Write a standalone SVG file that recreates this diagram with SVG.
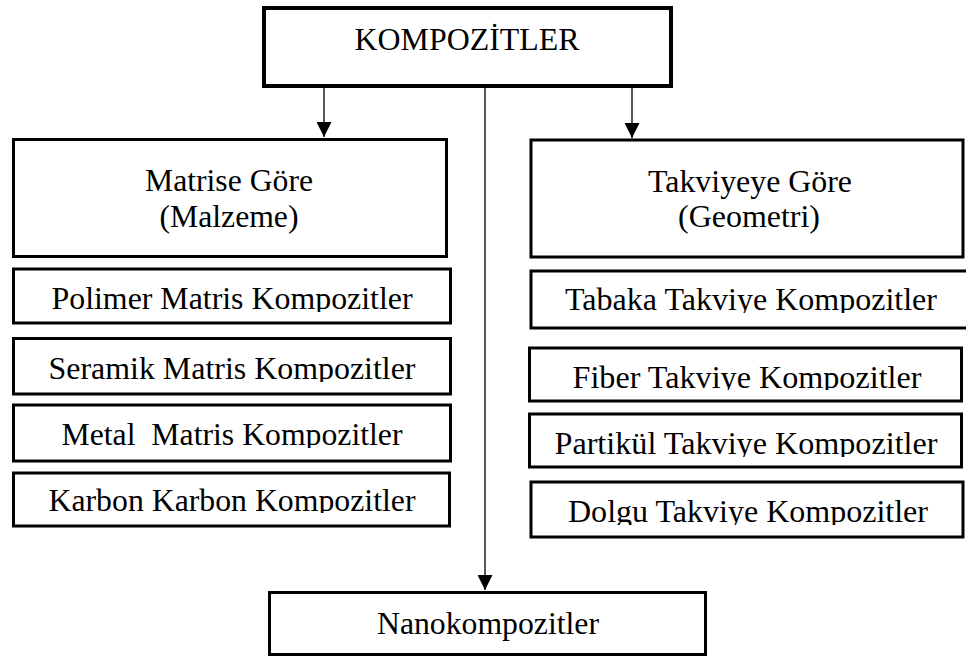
<svg xmlns="http://www.w3.org/2000/svg" width="966" height="657" viewBox="0 0 966 657">
<style>
.box{fill:#fff;stroke:#000;stroke-width:3}
.t{font-family:"Liberation Serif",serif;font-size:31px;fill:#000;text-anchor:middle}
.ln{stroke:#000;stroke-width:1.3;fill:none}
</style>
<defs>
<marker id="ah" markerWidth="16" markerHeight="15" refX="15" refY="7.5" orient="auto" markerUnits="userSpaceOnUse">
<path d="M0,0 L15,7.5 L0,15 Z" fill="#000"/>
</marker>
<clipPath id="c1" clipPathUnits="userSpaceOnUse"><rect x="0" y="270" width="966" height="42"/></clipPath>
<clipPath id="c2" clipPathUnits="userSpaceOnUse"><rect x="0" y="272" width="966" height="41"/></clipPath>
<clipPath id="c3" clipPathUnits="userSpaceOnUse"><rect x="0" y="340" width="966" height="42"/></clipPath>
<clipPath id="c4" clipPathUnits="userSpaceOnUse"><rect x="0" y="406" width="966" height="42"/></clipPath>
<clipPath id="c5" clipPathUnits="userSpaceOnUse"><rect x="0" y="474" width="966" height="39"/></clipPath>
<clipPath id="c6" clipPathUnits="userSpaceOnUse"><rect x="0" y="349" width="966" height="41"/></clipPath>
<clipPath id="c7" clipPathUnits="userSpaceOnUse"><rect x="0" y="415" width="966" height="42"/></clipPath>
<clipPath id="c8" clipPathUnits="userSpaceOnUse"><rect x="0" y="483" width="966" height="42"/></clipPath>
</defs>
<g id="connectors">
<line class="ln" x1="324" y1="88" x2="324" y2="137" marker-end="url(#ah)"/>
<line class="ln" x1="632" y1="88" x2="632" y2="138" marker-end="url(#ah)"/>
<line class="ln" x1="485" y1="88" x2="485" y2="590" marker-end="url(#ah)"/>
</g>
<g id="n-kompozitler">
<rect class="box" x="264" y="8" width="407" height="78" style="stroke-width:4"/>
<text class="t" x="467" y="50" textLength="225" lengthAdjust="spacingAndGlyphs">KOMPOZİTLER</text>
</g>
<g id="n-matrise">
<rect class="box" x="13.5" y="139.5" width="433" height="117"/>
<text class="t" x="229" y="191" textLength="168" lengthAdjust="spacingAndGlyphs">Matrise Göre</text>
<text class="t" x="229" y="227" textLength="139" lengthAdjust="spacingAndGlyphs">(Malzeme)</text>
</g>
<g id="n-polimer">
<rect class="box" x="13.5" y="269" width="437" height="54"/>
<text class="t" x="232" y="309" textLength="361" lengthAdjust="spacingAndGlyphs" clip-path="url(#c1)">Polimer Matris Kompozitler</text>
</g>
<g id="n-seramik">
<rect class="box" x="13.5" y="338.5" width="437" height="55.5"/>
<text class="t" x="232" y="379" textLength="367" lengthAdjust="spacingAndGlyphs" clip-path="url(#c3)">Seramik Matris Kompozitler</text>
</g>
<g id="n-metal">
<rect class="box" x="13.5" y="405" width="437" height="56"/>
<text class="t" x="232" y="445" textLength="341" lengthAdjust="spacingAndGlyphs" clip-path="url(#c4)" xml:space="preserve">Metal  Matris Kompozitler</text>
</g>
<g id="n-karbon">
<rect class="box" x="13.5" y="473" width="436" height="53"/>
<text class="t" x="232" y="511" textLength="367" lengthAdjust="spacingAndGlyphs" clip-path="url(#c5)">Karbon Karbon Kompozitler</text>
</g>
<g id="n-takviyeye">
<rect class="box" x="531" y="140" width="432" height="117"/>
<text class="t" x="750" y="192" textLength="204" lengthAdjust="spacingAndGlyphs">Takviyeye Göre</text>
<text class="t" x="749" y="227" textLength="142" lengthAdjust="spacingAndGlyphs">(Geometri)</text>
</g>
<g id="n-tabaka">
<rect class="box" x="531" y="271" width="440" height="57"/>
<text class="t" x="751" y="310" textLength="372" lengthAdjust="spacingAndGlyphs" clip-path="url(#c2)">Tabaka Takviye Kompozitler</text>
</g>
<g id="n-fiber">
<rect class="box" x="529.5" y="348" width="432" height="53"/>
<text class="t" x="747" y="388" textLength="349" lengthAdjust="spacingAndGlyphs" clip-path="url(#c6)">Fiber Takviye Kompozitler</text>
</g>
<g id="n-partikul">
<rect class="box" x="529.5" y="414" width="432" height="53"/>
<text class="t" x="746" y="454" textLength="383" lengthAdjust="spacingAndGlyphs" clip-path="url(#c7)">Partikül Takviye Kompozitler</text>
</g>
<g id="n-dolgu">
<rect class="box" x="531" y="482" width="432" height="55"/>
<text class="t" x="748" y="522" textLength="360" lengthAdjust="spacingAndGlyphs" clip-path="url(#c8)">Dolgu Takviye Kompozitler</text>
</g>
<g id="n-nano">
<rect class="box" x="269.5" y="592.5" width="436" height="62"/>
<text class="t" x="488" y="634" textLength="222" lengthAdjust="spacingAndGlyphs">Nanokompozitler</text>
</g>
</svg>
